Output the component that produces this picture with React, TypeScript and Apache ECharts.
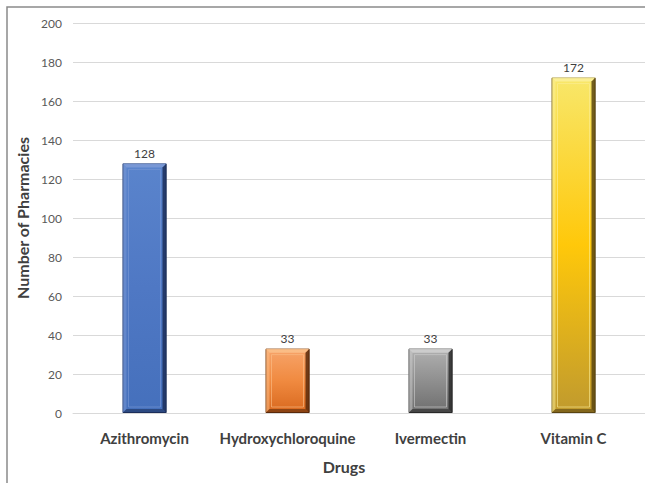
import React, { useEffect, useRef } from "react";
import * as echarts from "echarts";

const categories = ["Azithromycin", "Hydroxychloroquine", "Ivermectin", "Vitamin C"];
const pharmacyCounts = [128, 33, 33, 172];
const yTicks = { min: 0, max: 200, interval: 20 };

const fills = [
  ["#5a84cc", "#4f78c4", "#4570bc"],
  ["#f7a46a", "#f08a40", "#d8681e"],
  ["#b0b0b0", "#8f8f8f", "#6e6e6e"],
  ["#f8e76a", "#ffc80a", "#c09a2e"],
];
const darkEdges = ["#1c2f5a", "#5a2a0a", "#2a2a2a", "#5a4510"];
const lightEdges = ["#7c9ad6", "#fbc08a", "#cfcfcf", "#fbef9a"];

const FONT = "Lato, 'Open Sans', sans-serif";

export default function App() {
  const ref = useRef<HTMLDivElement>(null);
  useEffect(() => {
    if (!ref.current) return;
    const chart = echarts.init(ref.current, undefined, { renderer: "svg" });
    const barW = 44;
    chart.setOption({
      animation: false,
      backgroundColor: "#ffffff",
      textStyle: { fontFamily: FONT },
      grid: { left: 73, right: 0, top: 23, bottom: 70, containLabel: false },
      graphic: [
        {
          type: "rect",
          shape: { x: 7, y: 7, width: 700, height: 600 },
          style: { fill: "none", stroke: "#8a8a8a", lineWidth: 1.5 },
          z: 100,
        },
      ],
      xAxis: {
        type: "category",
        data: categories,
        name: "Drugs",
        nameLocation: "middle",
        nameGap: 45,
        nameTextStyle: { fontWeight: "bold", fontSize: 16, color: "#404040", fontFamily: FONT, padding: [0, 30, 0, 0] },
        axisLine: { show: true, lineStyle: { color: "#d9d9d9", width: 1 } },
        axisTick: { show: false },
        axisLabel: { interval: 0, fontWeight: "bold", fontSize: 15, color: "#404040", margin: 17, fontFamily: FONT },
      },
      yAxis: {
        type: "value",
        min: yTicks.min,
        max: yTicks.max,
        interval: yTicks.interval,
        name: "Number of Pharmacies",
        nameLocation: "middle",
        nameGap: 43,
        nameTextStyle: { fontWeight: "bold", fontSize: 16, color: "#404040", fontFamily: FONT },
        axisLine: { show: false },
        axisTick: { show: false },
        axisLabel: { fontSize: 12, color: "#595959", margin: 11, fontFamily: FONT },
        splitLine: { lineStyle: { color: "#d9d9d9", width: 1 } },
      },
      series: [
        {
          type: "bar",
          barWidth: barW,
          data: pharmacyCounts.map((v, i) => ({
            value: v,
            itemStyle: {
              color: new echarts.graphic.LinearGradient(0, 0, 0, 1, [
                { offset: 0, color: fills[i][0] },
                { offset: 0.5, color: fills[i][1] },
                { offset: 1, color: fills[i][2] },
              ]),
              borderColor: darkEdges[i],
              borderWidth: 1,
            },
          })),
          label: {
            show: true,
            position: "top",
            distance: 4,
            fontSize: 12,
            color: "#404040",
            fontFamily: FONT,
          },
          z: 2,
        },
        {
          type: "custom",
          z: 3,
          silent: true,
          data: pharmacyCounts.map((v, i) => [i, v]),
          renderItem: (params: any, api: any) => {
            const i = api.value(0);
            const top = api.coord([i, api.value(1)]);
            const base = api.coord([i, 0]);
            const x0 = top[0] - barW / 2;
            const x1 = top[0] + barW / 2;
            const y0 = top[1];
            const y1 = base[1];
            const b = 4;
            return {
              type: "group",
              children: [
                {
                  type: "polygon",
                  shape: { points: [[x0, y0], [x1, y0], [x1 - b, y0 + b], [x0 + b, y0 + b]] },
                  style: { fill: lightEdges[i], opacity: 0.9 },
                },
                {
                  type: "polygon",
                  shape: { points: [[x0, y0], [x0 + b, y0 + b], [x0 + b, y1 - b], [x0, y1]] },
                  style: { fill: lightEdges[i], opacity: 0.5 },
                },
                {
                  type: "polygon",
                  shape: { points: [[x1, y0], [x1, y1], [x1 - b, y1 - b], [x1 - b, y0 + b]] },
                  style: { fill: darkEdges[i], opacity: 0.85 },
                },
                {
                  type: "polygon",
                  shape: { points: [[x0, y1], [x1, y1], [x1 - b, y1 - b], [x0 + b, y1 - b]] },
                  style: { fill: darkEdges[i], opacity: 0.6 },
                },
                {
                  type: "rect",
                  shape: { x: x0 + b + 2, y: y0 + b + 2, width: barW - 2 * b - 4, height: Math.max(0, y1 - y0 - 2 * b - 4) },
                  style: { fill: "none", stroke: lightEdges[i], lineWidth: 1, opacity: 0.6 },
                },
              ],
            };
          },
        },
      ],
    });
    return () => chart.dispose();
  }, []);
  return (
    <div
      ref={ref}
      style={{ position: "fixed", left: 0, top: 0, width: 645, height: 483 }}
    />
  );
}
